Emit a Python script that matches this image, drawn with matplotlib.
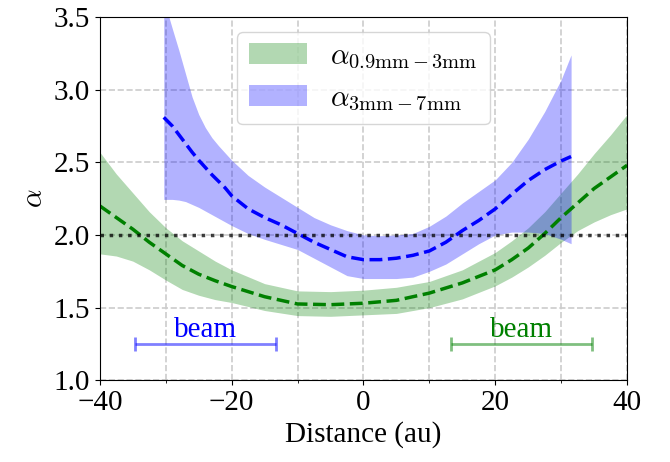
import matplotlib
matplotlib.use("Agg")
import matplotlib.pyplot as plt
import numpy as np

plt.rcParams["font.family"] = ["Liberation Serif", "DejaVu Serif"]
plt.rcParams["mathtext.fontset"] = "cm"
plt.rcParams["font.size"] = 21

# alpha between 0.9 mm and 3 mm (green)
x_g = [-40, -37.5, -35, -32.5, -30, -27.5, -25, -22.5, -20, -15, -10, -5, 0, 5,
       10, 15, 20, 22.5, 25, 27.5, 30, 32.5, 35, 37.5, 40]
mid_g = [2.20, 2.12, 2.04, 1.95, 1.87, 1.79, 1.73, 1.685, 1.645, 1.575, 1.525,
         1.52, 1.53, 1.55, 1.60, 1.67, 1.76, 1.83, 1.91, 2.01, 2.12, 2.22, 2.32,
         2.40, 2.48]
up_g = [2.57, 2.42, 2.29, 2.16, 2.05, 1.96, 1.89, 1.82, 1.76, 1.665, 1.615,
        1.61, 1.62, 1.64, 1.68, 1.76, 1.88, 1.96, 2.05, 2.16, 2.29, 2.42, 2.56,
        2.69, 2.83]
lo_g = [1.87, 1.855, 1.82, 1.76, 1.69, 1.625, 1.585, 1.555, 1.535, 1.48, 1.445,
        1.44, 1.45, 1.46, 1.50, 1.56, 1.65, 1.71, 1.78, 1.86, 1.95, 2.03, 2.09,
        2.14, 2.18]

# alpha between 3 mm and 7 mm (blue)
x_b = [-30.3, -29, -28, -27, -26, -25, -24, -23, -22, -21, -20, -17.5, -15,
       -12.5, -10, -7.5, -5, -2.5, 0, 2.5, 5, 7.5, 10, 12.5, 15, 17.5, 20, 22.5,
       25, 27.5, 30, 31.5]
mid_b = [2.81, 2.75, 2.69, 2.63, 2.57, 2.515, 2.465, 2.415, 2.37, 2.325, 2.27,
         2.18, 2.12, 2.07, 2.01, 1.95, 1.90, 1.85, 1.83, 1.83, 1.84, 1.86, 1.89,
         1.95, 2.03, 2.10, 2.18, 2.28, 2.375, 2.45, 2.51, 2.54]
up_b = [3.62, 3.42, 3.27, 3.11, 2.95, 2.83, 2.74, 2.67, 2.615, 2.565, 2.515,
        2.41, 2.33, 2.26, 2.19, 2.12, 2.07, 2.03, 2.00, 1.995, 2.00, 2.01, 2.06,
        2.13, 2.22, 2.30, 2.38, 2.50, 2.66, 2.85, 3.07, 3.24]
lo_b = [2.245, 2.245, 2.24, 2.23, 2.21, 2.19, 2.165, 2.14, 2.115, 2.09, 2.065,
        2.01, 1.97, 1.935, 1.90, 1.84, 1.78, 1.72, 1.70, 1.70, 1.70, 1.71, 1.75,
        1.80, 1.87, 1.94, 2.00, 2.02, 2.02, 2.01, 1.97, 1.94]

# beam sizes (centre, half width)
beam_x = [-24.0, 24.0]
beam_w = 10.7
beam_y = 1.25
beam_cols = ["b", "g"]

fig = plt.figure(figsize=(6.7, 4.62), dpi=100)
ax = fig.add_axes([0.149, 0.177, 0.787, 0.786])

ax.fill_between(x_g, lo_g, up_g, color="g", alpha=0.3, lw=0,
                label=r"$\alpha_{0.9{\rm mm}-3{\rm mm}}$")
ax.fill_between(x_b, lo_b, up_b, color="b", alpha=0.3, lw=0,
                label=r"$\alpha_{3{\rm mm}-7{\rm mm}}$")
ax.plot(x_g, mid_g, "g--", lw=2.5)
ax.plot(x_b, mid_b, "b--", lw=2.5)
ax.axhline(2.0, color="k", ls=":", lw=2.5, alpha=0.75)

for bx, c in zip(beam_x, beam_cols):
    ax.errorbar(bx, beam_y, xerr=beam_w, fmt="none", ecolor=c, alpha=0.5,
                elinewidth=2, capsize=5, capthick=2)
    ax.text(bx, 1.30, "beam", color=c, ha="center", va="baseline")

ax.set_xlim(-40, 40)
ax.set_ylim(1.0, 3.5)
ax.set_xticks([-40, -20, 0, 20, 40])
ax.set_xticks([-30, -10, 10, 30], minor=True)
ax.set_yticks([1.0, 1.5, 2.0, 2.5, 3.0, 3.5])
ax.set_axisbelow(True)
ax.grid(which="both", axis="x", ls="--", color="0.8", lw=1.2)
ax.grid(which="major", axis="y", ls="--", color="0.8", lw=1.2)
ax.set_xlabel("Distance (au)")
ax.set_ylabel(r"$\alpha$")
ax.legend(loc="upper center", fontsize=21)

fig.savefig("out.png", dpi=100)
